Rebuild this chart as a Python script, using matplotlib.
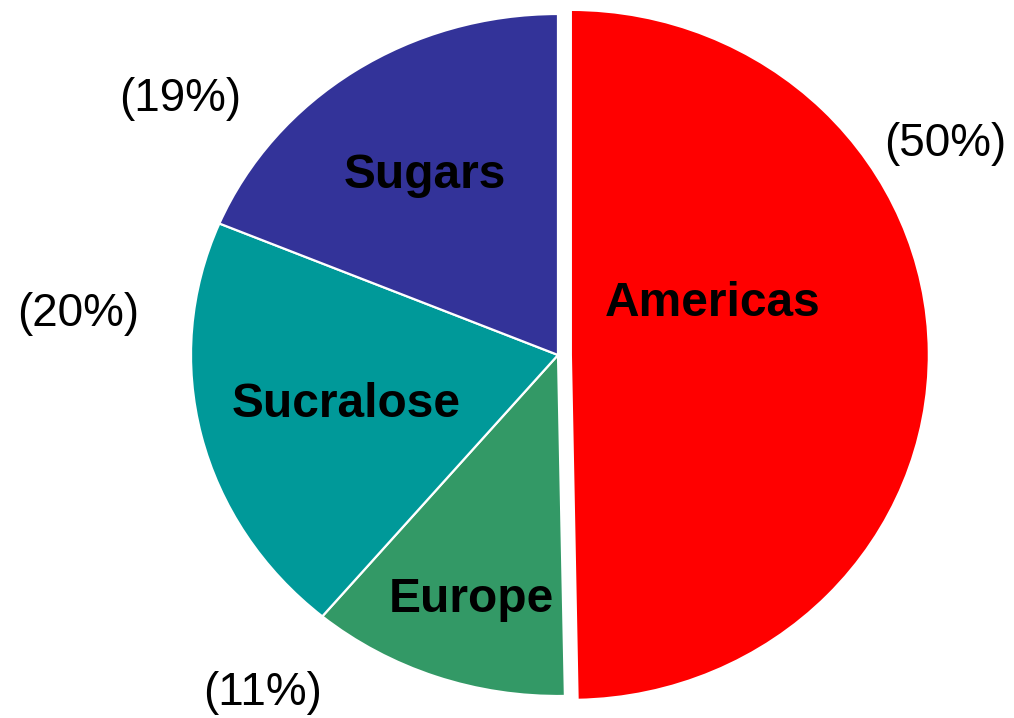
import matplotlib
matplotlib.use("Agg")
import matplotlib.pyplot as plt
from matplotlib.transforms import Affine2D

# Data
categories = ["Americas", "Europe", "Sucralose", "Sugars"]
shares = [49.7, 11.4, 20.2, 18.7]
colors = ["#FF0000", "#339966", "#009999", "#333399"]

# Layout (data units; pie centre at 0,0)
name_pos = [(0.422, 0.115), (-0.237, -0.755), (-0.578, -0.182), (-0.362, 0.49)]
pct_pos = [(1.055, 0.585), (-0.805, -1.025), (-1.308, 0.085), (-1.030, 0.715)]

plt.rcParams['font.family'] = ['Liberation Sans', 'DejaVu Sans']

W, H = 1014, 718
fig = plt.figure(figsize=(W / 100, H / 100), dpi=100)
ax = fig.add_axes([0, 0, 1, 1])

cx_px, cy_px = 558, 355
rx_px, ry_px = 367, 341

wedges, _ = ax.pie(shares, colors=colors, startangle=90, counterclock=False,
                   explode=[0.035, 0, 0, 0],
                   wedgeprops=dict(edgecolor="white", linewidth=1.6))
ax.set_aspect('auto')
ax.set_xlim(-cx_px / rx_px, (W - cx_px) / rx_px)
ax.set_ylim(-(H - cy_px) / ry_px, cy_px / ry_px)

# Americas slice slightly different proportions
w0 = wedges[0]
cx, cy = w0.center
w0.set_transform(Affine2D().translate(-cx, -cy).scale(358 / 367, 345 / 341)
                 .translate(cx, cy) + ax.transData)

for name, (x, y) in zip(categories, name_pos):
    ax.text(x, y, name, ha='center', va='baseline', fontsize=34.5,
            fontweight='bold', color='black')

for v, (x, y) in zip(shares, pct_pos):
    ax.text(x, y, f"({round(v):d}%)", ha='center', va='baseline', fontsize=33,
            color='black')

fig.savefig("out.png", dpi=100)
